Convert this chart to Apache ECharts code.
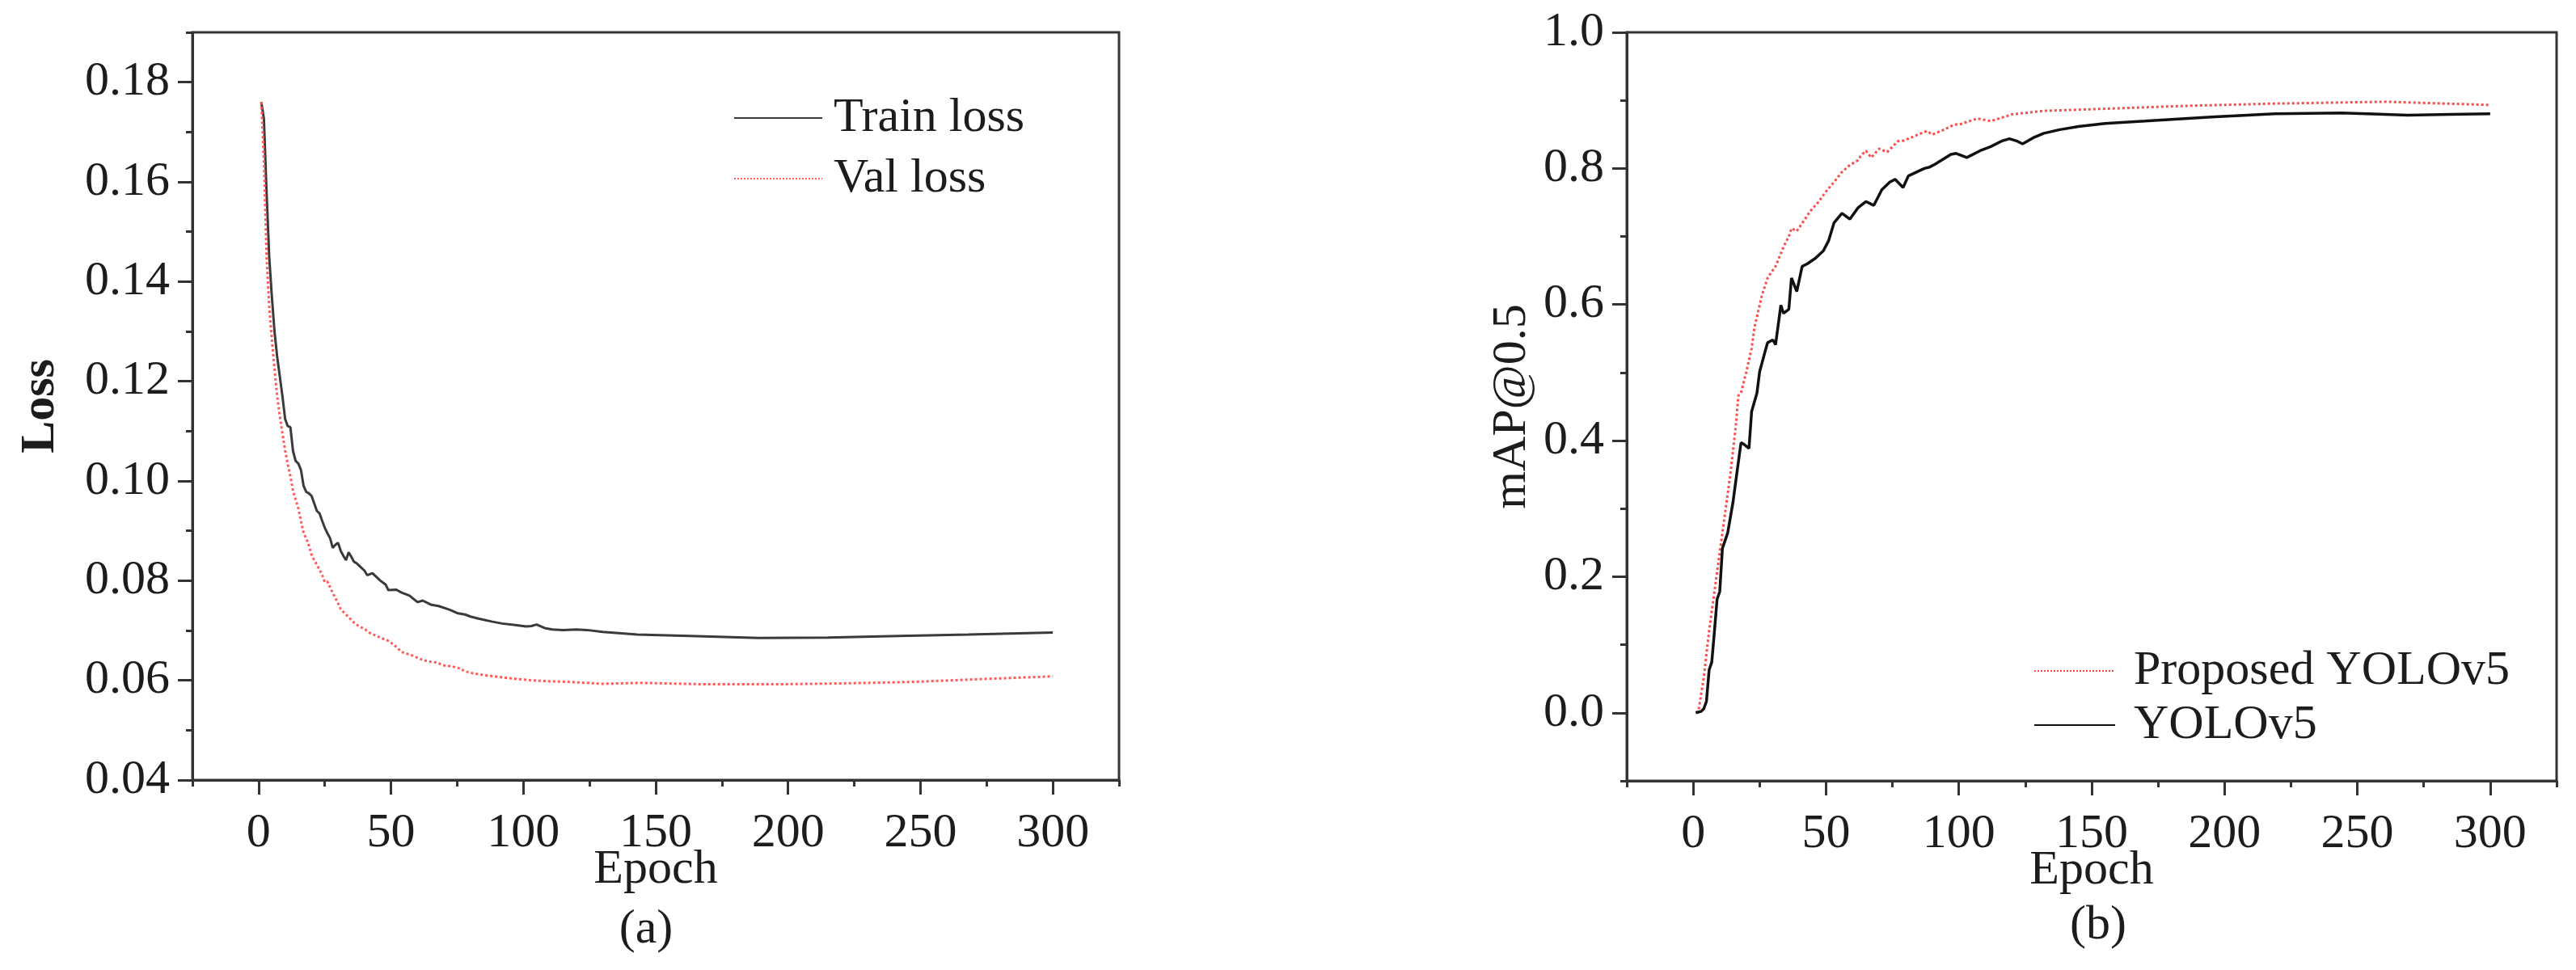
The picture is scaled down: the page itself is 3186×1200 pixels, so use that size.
<!DOCTYPE html>
<html>
<head>
<meta charset="utf-8">
<script src="https://cdn.jsdelivr.net/npm/echarts@6/dist/echarts.min.js"></script>
<style>
  html,body{margin:0;padding:0;background:#fff;}
  #chart{width:3186px;height:1200px;}
</style>
</head>
<body>
<div id="chart"></div>
<script>
// (a) loss curves, [epoch, loss]
var trainLoss = [[1,0.176],[2,0.1727],[3,0.158],[4,0.145],[5,0.137],[6,0.130],[7,0.125],[8,0.121],[9,0.117],[10,0.1125],[11,0.111],[12,0.1108],[13,0.106],[14,0.104],[15,0.1035],[16,0.1022],[17,0.099],[18,0.0978],[19,0.0975],[20,0.097],[21,0.0955],[22,0.094],[23,0.0935],[24,0.092],[25,0.0906],[26,0.0895],[27,0.0885],[28,0.0866],[29,0.0872],[30,0.0876],[31,0.086],[32,0.085],[33,0.0841],[34,0.0857],[35,0.0848],[36,0.0838],[37,0.0835],[38,0.083],[40,0.082],[41,0.0811],[43,0.0815],[46,0.080],[48,0.0792],[49,0.0781],[52,0.0782],[54,0.0776],[57,0.077],[60,0.0757],[62,0.076],[65,0.0752],[68,0.0749],[72,0.0742],[75,0.0735],[78,0.0732],[80,0.0728],[83,0.0724],[88,0.0718],[92,0.0714],[97,0.0711],[101,0.0708],[103,0.0709],[105,0.0712],[108,0.0705],[111,0.0702],[115,0.0701],[120,0.0702],[124,0.0701],[130,0.0697],[143,0.0692],[163,0.0689],[189,0.0685],[215,0.0686],[242,0.0689],[268,0.0692],[300,0.0696]];
var valLoss = [[1,0.176],[2,0.1643],[3,0.145],[4,0.135],[5,0.1285],[6,0.1226],[7,0.117],[8,0.113],[9,0.1095],[10,0.1062],[11,0.1034],[12,0.101],[13,0.098],[14,0.0962],[15,0.0945],[16,0.092],[17,0.0895],[18,0.0885],[19,0.087],[20,0.0852],[21,0.0841],[22,0.0832],[24,0.0812],[25,0.0797],[26,0.0798],[28,0.0775],[30,0.0755],[31,0.0743],[33,0.0732],[36,0.0716],[38,0.0708],[40,0.0703],[42,0.0695],[45,0.0688],[49,0.0679],[51,0.0672],[54,0.0657],[58,0.065],[61,0.0643],[64,0.0638],[67,0.0636],[70,0.063],[73,0.0628],[76,0.0624],[78,0.0618],[81,0.0614],[86,0.061],[92,0.0606],[97,0.0603],[103,0.06],[110,0.0598],[117,0.0597],[130,0.0593],[144,0.0595],[169,0.0592],[195,0.0592],[222,0.0594],[248,0.0597],[275,0.0603],[300,0.0608]];

// (b) mAP@0.5 curves, [epoch, mAP]
var proposedMap = [[1,0.0],[2,0.003],[4,0.052],[6,0.121],[8,0.178],[10,0.236],[12,0.2935],[14,0.351],[16,0.42],[17,0.466],[18,0.47],[20,0.501],[22,0.5355],[23,0.565],[25,0.599],[26,0.615],[28,0.639],[29,0.645],[31,0.656],[33,0.675],[34,0.685],[36,0.7],[37,0.712],[39,0.708],[42,0.725],[44,0.737],[47,0.75],[50,0.766],[53,0.78],[56,0.7946],[59,0.805],[62,0.812],[63,0.818],[65,0.826],[67,0.816],[70,0.829],[73,0.824],[77,0.8398],[79,0.8407],[83,0.847],[86,0.852],[88,0.855],[90,0.8497],[95,0.858],[98,0.864],[101,0.8656],[107,0.8734],[112,0.8695],[120,0.8794],[132,0.8846],[153,0.8874],[186,0.892],[219,0.8953],[245,0.897],[261,0.898],[277,0.896],[300,0.8933]];
var yoloMap = [[1,0.0],[3,0.002],[4,0.006],[5,0.017],[6,0.063],[7,0.0745],[8,0.12],[9,0.167],[10,0.178],[11,0.2416],[13,0.2646],[15,0.31],[16,0.3395],[18,0.397],[19,0.395],[21,0.3885],[22,0.443],[24,0.47],[25,0.501],[27,0.53],[28,0.544],[30,0.548],[31,0.541],[33,0.599],[34,0.587],[36,0.593],[37,0.639],[39,0.619],[41,0.656],[43,0.66],[46,0.668],[49,0.679],[51,0.694],[53,0.72],[56,0.734],[59,0.7255],[62,0.742],[65,0.7514],[68,0.7457],[71,0.7687],[74,0.78],[76,0.784],[79,0.772],[81,0.789],[87,0.8],[89,0.802],[91,0.806],[97,0.8206],[99,0.822],[103,0.816],[108,0.826],[112,0.832],[116,0.84],[119,0.8437],[122,0.84],[124,0.836],[128,0.845],[132,0.8517],[138,0.857],[145,0.8616],[155,0.866],[170,0.8695],[195,0.8755],[219,0.8802],[244,0.8814],[256,0.880],[269,0.8782],[285,0.8795],[300,0.8802]];

// tick values
var epochTicks = [0,50,100,150,200,250,300];
var epochMinorTicks = [-25,25,75,125,175,225,275,325];
var lossTicks = [0.04,0.06,0.08,0.1,0.12,0.14,0.16,0.18];
var lossMinorTicks = [0.05,0.07,0.09,0.11,0.13,0.15,0.17,0.19];
var mapTicks = [0,0.2,0.4,0.6,0.8,1.0];
var mapMinorTicks = [-0.1,0.1,0.3,0.5,0.7,0.9];

var FONT = "'Liberation Serif','Times New Roman',serif";
var INK = '#1c1c1c';
var AXIS = '#333';

function mainAxis(gridIndex, min, max, ticks, digits, margin, extra){
  var ax = {
    type:'value', gridIndex:gridIndex, min:min, max:max,
    splitLine:{show:false},
    axisLine:{show:true, onZero:false, lineStyle:{color:AXIS, width:3}},
    axisTick:{show:true, inside:false, length:18, customValues:ticks, lineStyle:{color:AXIS, width:3}},
    axisLabel:{show:true, customValues:ticks, margin:margin, color:INK, fontFamily:FONT, fontSize:60,
      formatter:function(v){ return digits ? (+v).toFixed(digits) : String(Math.round(v)); }},
    nameMoveOverlap:false,
    nameTextStyle:{color:INK, fontFamily:FONT, fontSize:60}
  };
  for(var k in extra){ ax[k] = extra[k]; }
  return ax;
}
function minorAxis(gridIndex, min, max, ticks, pos){
  return {
    type:'value', gridIndex:gridIndex, min:min, max:max, position:pos,
    splitLine:{show:false},
    axisLine:{show:false, onZero:false},
    axisLabel:{show:false},
    axisTick:{show:true, inside:false, length:8, customValues:ticks, lineStyle:{color:AXIS, width:3}}
  };
}

var chart = echarts.init(document.getElementById('chart'), null, {renderer:'canvas'});
chart.setOption({
  backgroundColor:'#fff',
  animation:false,
  grid:[
    {left:238, top:40, width:1146, height:925, show:true, borderColor:AXIS, borderWidth:3, containLabel:false, outerBoundsMode:'none'},
    {left:2012, top:40, width:1150, height:926, show:true, borderColor:AXIS, borderWidth:3, containLabel:false, outerBoundsMode:'none'}
  ],
  legend:[
    {
      data:['Train loss','Val loss'], orient:'vertical', left:907, top:116,
      itemWidth:109, itemHeight:20, itemGap:15, padding:0,
      itemStyle:{opacity:0},
      textStyle:{color:INK, fontFamily:FONT, fontSize:60, padding:[0,0,0,9]}
    },
    {
      data:['Proposed YOLOv5','YOLOv5'], orient:'vertical', left:2515, top:800,
      itemWidth:100, itemHeight:20, itemGap:7, padding:0,
      itemStyle:{opacity:0},
      textStyle:{color:INK, fontFamily:FONT, fontSize:60, padding:[0,0,0,18]}
    }
  ],
  xAxis:[
    mainAxis(0, -25, 325, epochTicks, 0, 36, {position:'bottom', name:'Epoch', nameLocation:'middle', nameGap:81}),
    minorAxis(0, -25, 325, epochMinorTicks, 'bottom'),
    mainAxis(1, -25, 325, epochTicks, 0, 36, {position:'bottom', name:'Epoch', nameLocation:'middle', nameGap:81}),
    minorAxis(1, -25, 325, epochMinorTicks, 'bottom')
  ],
  yAxis:[
    mainAxis(0, 0.04, 0.19, lossTicks, 2, 28, {position:'left', name:'Loss', nameLocation:'middle', nameGap:158,
      nameTextStyle:{color:INK, fontFamily:FONT, fontSize:60, fontWeight:'bold'}}),
    minorAxis(0, 0.04, 0.19, lossMinorTicks, 'left'),
    mainAxis(1, -0.1, 1.0, mapTicks, 1, 28, {position:'left', name:'mAP@0.5', nameLocation:'middle', nameGap:112}),
    minorAxis(1, -0.1, 1.0, mapMinorTicks, 'left')
  ],
  graphic:[
    {type:'text', x:799, y:1150, style:{text:'(a)', x:0, y:0, align:'center', verticalAlign:'middle', fill:INK, font:'60px ' + FONT}},
    {type:'text', x:2595, y:1145, style:{text:'(b)', x:0, y:0, align:'center', verticalAlign:'middle', fill:INK, font:'60px ' + FONT}}
  ],
  series:[
    {name:'Train loss', type:'line', xAxisIndex:0, yAxisIndex:0, data:trainLoss, symbol:'none',
      lineStyle:{color:'#3a3a3a', width:3}, itemStyle:{color:'#3a3a3a'}},
    {name:'Val loss', type:'line', xAxisIndex:0, yAxisIndex:0, data:valLoss, symbol:'none',
      lineStyle:{color:'#ff5a5a', width:3, type:'dotted'}, itemStyle:{color:'#ff5a5a'}},
    {name:'Proposed YOLOv5', type:'line', xAxisIndex:2, yAxisIndex:2, data:proposedMap, symbol:'none',
      lineStyle:{color:'#ff4a4a', width:3, type:'dotted'}, itemStyle:{color:'#ff4a4a'}},
    {name:'YOLOv5', type:'line', xAxisIndex:2, yAxisIndex:2, data:yoloMap, symbol:'none',
      lineStyle:{color:'#111', width:3.5}, itemStyle:{color:'#111'}}
  ]
});
</script>
</body>
</html>
